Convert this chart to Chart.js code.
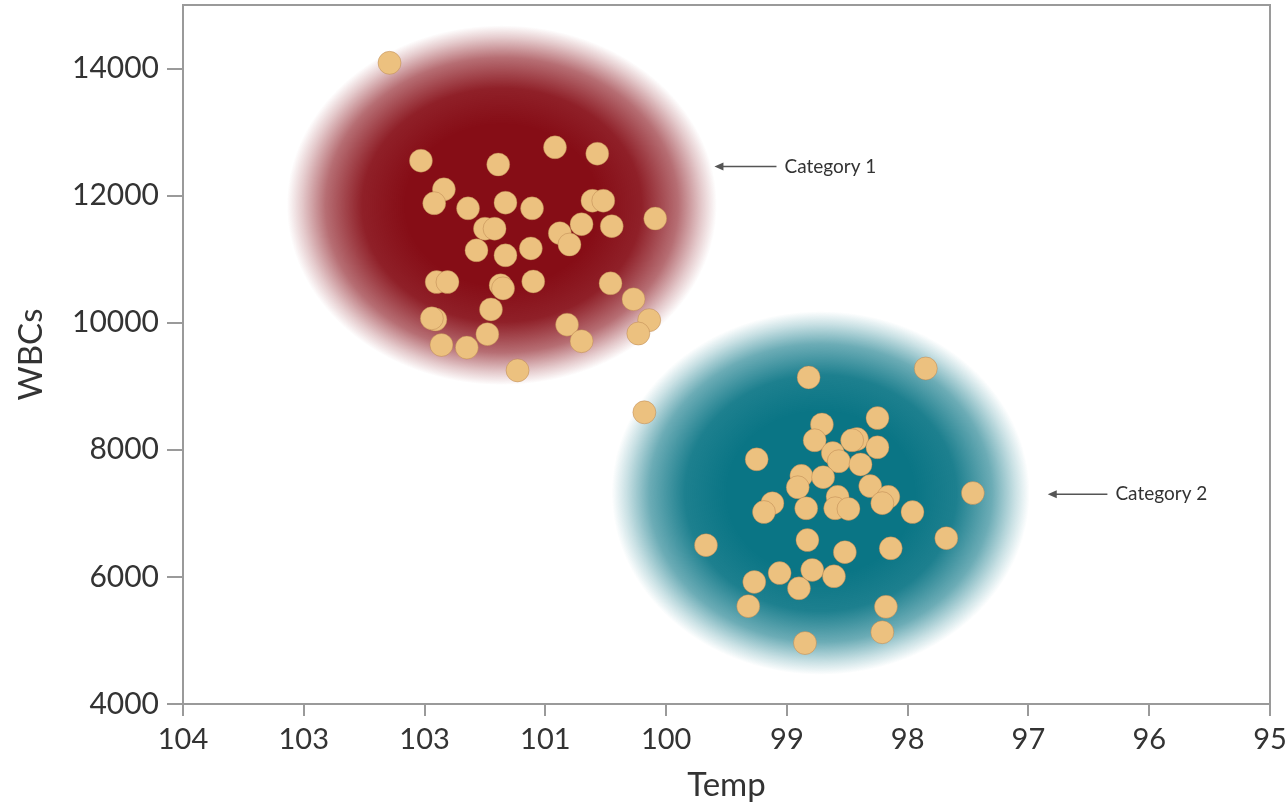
<!DOCTYPE html>
<html>
<head>
<meta charset="utf-8">
<script src="https://cdn.jsdelivr.net/npm/chart.js@4.4.1/dist/chart.umd.min.js"></script>
<style>
  html, body { margin: 0; padding: 0; background: #ffffff; }
  #wrap { width: 1286px; height: 809px; }
</style>
</head>
<body>
<div id="wrap"><canvas id="c" width="1286" height="809"></canvas></div>
<script>
// Body temperature (°F) vs white blood cell count, two patient groups
const cat1Temp = [102.29, 102.03, 101.39, 100.92, 100.57, 101.84, 101.92, 101.64, 101.33, 101.11,
  100.61, 100.52, 100.09, 101.50, 101.42, 101.57, 101.33, 101.12, 100.88, 100.80,
  100.70, 100.45, 101.90, 101.81, 101.37, 101.35, 101.10, 100.46, 100.27, 100.14,
  100.23, 101.91, 101.94, 101.45, 100.82, 100.70, 101.86, 101.65, 101.48, 101.23, 100.18];
const cat1Wbc = [14090, 12550, 12490, 12760, 12660, 12100, 11880, 11800, 11890, 11800,
  11920, 11920, 11640, 11480, 11480, 11140, 11060, 11170, 11410, 11230,
  11550, 11520, 10640, 10640, 10590, 10540, 10650, 10620, 10370, 10040,
  9830, 10050, 10070, 10210, 9970, 9710, 9650, 9610, 9820, 9250, 8590];

const cat2Temp = [97.85, 98.82, 98.71, 98.25, 98.77, 98.42, 98.46, 98.25, 98.62, 98.57,
  98.39, 99.25, 98.88, 98.91, 98.70, 98.31, 98.16, 98.21, 98.58, 98.60,
  98.49, 98.84, 99.12, 99.19, 97.96, 97.46, 99.67, 98.83, 98.52, 98.14,
  97.68, 99.27, 99.06, 98.90, 98.79, 98.61, 99.32, 98.18, 98.21, 98.85];
const cat2Wbc = [9280, 9140, 8400, 8500, 8150, 8170, 8150, 8040, 7950, 7820,
  7770, 7850, 7590, 7410, 7570, 7430, 7260, 7160, 7260, 7080,
  7070, 7080, 7160, 7020, 7020, 7320, 6500, 6580, 6390, 6450,
  6610, 5920, 6060, 5820, 6110, 6010, 5540, 5530, 5130, 4960];

const xTickValues = [104, 103, 102, 101, 100, 99, 98, 97, 96, 95];
const xTickLabels = ['104', '103', '103', '101', '100', '99', '98', '97', '96', '95'];
const yTickValues = [4000, 6000, 8000, 10000, 12000, 14000];

const categoryNames = ['Category 1', 'Category 2'];

// Shaded cluster regions, centre and radii in data units
const clusterCenterTemp = [101.36, 98.72];
const clusterCenterWbc = [11850, 7320];
const clusterRadiusTemp = [1.78, 1.73];
const clusterRadiusWbc = [2830, 2860];
const clusterColors = [[134, 13, 22], [10, 117, 133]];

// Callout arrows: tip and text start in data units
const calloutTipTemp = [99.60, 96.84];
const calloutTipWbc = [12460, 7300];
const calloutTextTemp = [99.02, 96.28];

const FONT = 'Lato, "Noto Sans", sans-serif';
const AXIS_GREY = '#9a9a9a';
const TEXT = '#333333';

const clusterPlugin = {
  id: 'clusters',
  beforeDatasetsDraw(chart) {
    const { ctx, scales: { x, y }, chartArea } = chart;
    ctx.save();
    ctx.beginPath();
    ctx.rect(chartArea.left, chartArea.top, chartArea.right - chartArea.left, chartArea.bottom - chartArea.top);
    ctx.clip();
    for (let i = 0; i < clusterCenterTemp.length; i++) {
      const cx = x.getPixelForValue(clusterCenterTemp[i]);
      const cy = y.getPixelForValue(clusterCenterWbc[i]);
      const rx = Math.abs(x.getPixelForValue(clusterCenterTemp[i] + clusterRadiusTemp[i]) - cx);
      const ry = Math.abs(y.getPixelForValue(clusterCenterWbc[i] + clusterRadiusWbc[i]) - cy);
      const [r, g, b] = clusterColors[i];
      ctx.save();
      ctx.translate(cx, cy);
      ctx.scale(rx, ry);
      const grad = ctx.createRadialGradient(0, 0, 0, 0, 0, 1);
      grad.addColorStop(0, `rgba(${r},${g},${b},1)`);
      grad.addColorStop(0.45, `rgba(${r},${g},${b},1)`);
      grad.addColorStop(0.65, `rgba(${r},${g},${b},0.92)`);
      grad.addColorStop(0.82, `rgba(${r},${g},${b},0.6)`);
      grad.addColorStop(0.93, `rgba(${r},${g},${b},0.22)`);
      grad.addColorStop(1, `rgba(${r},${g},${b},0)`);
      ctx.fillStyle = grad;
      ctx.beginPath();
      ctx.arc(0, 0, 1, 0, Math.PI * 2);
      ctx.fill();
      ctx.restore();
    }
    ctx.restore();
  },
  afterDraw(chart) {
    const { ctx, scales: { x, y }, chartArea } = chart;
    ctx.save();
    // frame round the plot area
    ctx.strokeStyle = AXIS_GREY;
    ctx.lineWidth = 2;
    ctx.beginPath();
    ctx.moveTo(chartArea.left, chartArea.top);
    ctx.lineTo(chartArea.right, chartArea.top);
    ctx.lineTo(chartArea.right, chartArea.bottom);
    ctx.stroke();
    // callouts
    for (let i = 0; i < categoryNames.length; i++) {
      const tx = x.getPixelForValue(calloutTipTemp[i]);
      const ty = y.getPixelForValue(calloutTipWbc[i]);
      const sx = x.getPixelForValue(calloutTextTemp[i]);
      ctx.strokeStyle = '#555555';
      ctx.fillStyle = '#555555';
      ctx.lineWidth = 1.5;
      ctx.beginPath();
      ctx.moveTo(sx - 8, ty);
      ctx.lineTo(tx + 6, ty);
      ctx.stroke();
      ctx.beginPath();
      ctx.moveTo(tx, ty);
      ctx.lineTo(tx + 9, ty - 4);
      ctx.lineTo(tx + 9, ty + 4);
      ctx.closePath();
      ctx.fill();
      ctx.fillStyle = TEXT;
      ctx.font = `19px ${FONT}`;
      ctx.textAlign = 'left';
      ctx.textBaseline = 'middle';
      ctx.fillText(categoryNames[i], sx, ty);
    }
    ctx.restore();
  }
};

const toPoints = (xs, ys) => xs.map((v, i) => ({ x: v, y: ys[i] }));

const pointStyle = {
  pointRadius: 11.5,
  pointHoverRadius: 11.5,
  backgroundColor: '#ecc17f',
  borderColor: 'rgba(176,120,70,0.4)',
  borderWidth: 1
};

new Chart(document.getElementById('c'), {
  type: 'scatter',
  data: {
    datasets: [
      { label: categoryNames[0], data: toPoints(cat1Temp, cat1Wbc), ...pointStyle },
      { label: categoryNames[1], data: toPoints(cat2Temp, cat2Wbc), ...pointStyle }
    ]
  },
  plugins: [clusterPlugin],
  options: {
    responsive: false,
    animation: false,
    events: [],
    layout: { autoPadding: false, padding: { top: 5, right: 16, left: 0, bottom: 0 } },
    plugins: {
      legend: { display: false },
      tooltip: { enabled: false }
    },
    scales: {
      x: {
        type: 'linear',
        reverse: true,
        min: 95,
        max: 104,
        afterBuildTicks(scale) { scale.ticks = xTickValues.map(v => ({ value: v })); },
        afterFit(scale) {
          scale.height = 105;
          scale.paddingLeft = 0;
          scale.paddingRight = 0;
        },
        ticks: {
          autoSkip: false,
          maxRotation: 0,
          padding: 6,
          color: TEXT,
          font: { family: FONT, size: 29 },
          callback(value) {
            const i = xTickValues.indexOf(value);
            return i >= 0 ? xTickLabels[i] : '';
          }
        },
        grid: { drawOnChartArea: false, drawTicks: true, tickLength: 12, color: AXIS_GREY, lineWidth: 2 },
        border: { display: true, color: AXIS_GREY, width: 2 },
        title: { display: true, text: 'Temp', color: TEXT, font: { family: FONT, size: 33 }, padding: { top: 2, bottom: 4 } }
      },
      y: {
        type: 'linear',
        min: 4000,
        max: 15000,
        afterBuildTicks(scale) { scale.ticks = yTickValues.map(v => ({ value: v })); },
        afterFit(scale) {
          scale.width = 183;
          scale.paddingTop = 0;
          scale.paddingBottom = 0;
        },
        ticks: {
          padding: 8,
          color: TEXT,
          font: { family: FONT, size: 30 },
          callback(value) { return String(value); }
        },
        grid: { drawOnChartArea: false, drawTicks: true, tickLength: 16, color: AXIS_GREY, lineWidth: 2 },
        border: { display: true, color: AXIS_GREY, width: 2 },
        title: { display: true, text: 'WBCs', color: TEXT, font: { family: FONT, size: 33 }, padding: { top: 12, bottom: 0 } }
      }
    }
  }
});
</script>
</body>
</html>
